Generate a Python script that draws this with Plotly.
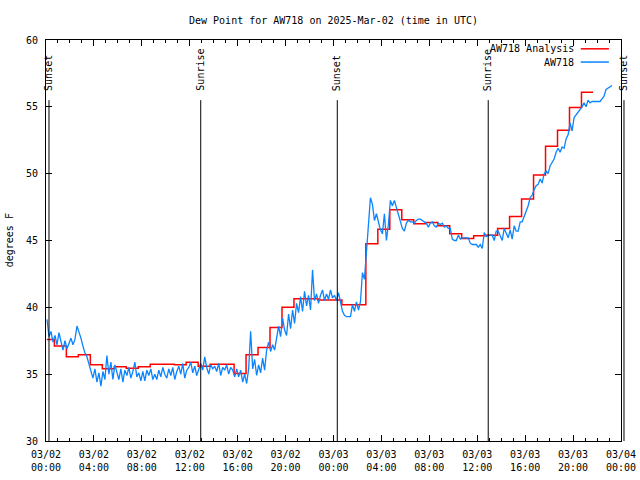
import pandas as pd
import plotly.graph_objects as go

TITLE = "Dew Point for AW718 on 2025-Mar-02 (time in UTC)"
Y_LABEL = "degrees F"
SERIES_NAMES = ["AW718 Analysis", "AW718"]

# x-axis window
x_start = "2025-03-02 00:00"
x_end = "2025-03-04 00:00"

# Analysis series: hourly step values (first value from analysis_start,
# following ones begin at analysis_first_step + (k-1) hours)
analysis_start = "2025-03-02 00:04"
analysis_first_step = "2025-03-02 00:42"
analysis_end = "2025-03-03 21:40"
analysis_values = [37.6, 37.1, 36.3, 36.45, 35.7, 35.4, 35.55, 35.45, 35.55, 35.75,
                   35.75, 35.7, 35.9, 35.6, 35.75, 35.75, 35.05, 36.45, 37.0, 38.5,
                   40.0, 40.65, 40.65, 40.55, 40.55, 40.2, 40.2, 44.75, 45.85, 47.3,
                   46.55, 46.25, 46.35, 46.1, 45.5, 45.15, 45.35, 45.4, 45.9, 46.8,
                   48.1, 49.9, 52.05, 53.25, 54.95, 56.1]

# Station observations every 10 minutes from obs_start
obs_start = "2025-03-02 00:05"
obs_step_minutes = 10
obs_values = [
    39.1, 37.8, 38.2, 37.4, 37.9, 37.2,
    38.1, 37.3, 36.8, 37.5, 36.9, 37.3,
    37.7, 37.2, 37.6, 38.6, 38.2, 37.7,
    37.1, 36.6, 36.3, 35.8, 35.3, 34.7,
    35.4, 34.4, 35.1, 34.1, 35.2, 34.6,
    36.4, 35.0, 35.9, 34.6, 35.7, 35.1,
    34.6, 35.4, 34.4, 35.3, 34.9, 35.5,
    34.7, 35.2, 35.9, 34.8, 35.1, 34.5,
    35.2, 34.5, 35.3, 34.9, 35.4, 34.6,
    35.0, 34.6, 35.3, 34.8, 35.5, 35.0,
    34.7, 35.4, 34.9, 35.5, 34.6, 35.2,
    35.6, 35.0, 35.8, 34.7, 35.3, 35.5,
    35.9, 35.1, 35.6, 34.9, 35.4, 35.8,
    35.3, 36.3, 35.5, 35.0, 35.7, 35.4,
    35.6, 35.2, 35.8, 34.9, 35.5, 35.3,
    35.7, 35.0, 35.5, 35.3, 34.8, 35.4,
    34.8, 35.3, 34.4, 35.0, 34.3, 35.4,
    38.2, 35.4, 36.1, 34.9, 35.7, 35.1,
    36.2, 35.3, 36.8, 37.4, 36.7, 37.2,
    36.8, 37.9, 38.6, 37.8, 39.2, 38.3,
    37.9, 39.5, 38.4, 39.8, 38.8, 40.3,
    39.6, 40.8, 39.7, 41.2, 40.1, 40.9,
    39.8, 42.8, 40.5, 41.0, 40.3, 40.9,
    41.3, 40.5, 41.0, 40.6, 41.3, 40.7,
    40.9, 40.5, 41.1, 40.4, 39.7, 39.4,
    39.3, 39.3, 39.3, 40.2, 39.7, 40.4,
    39.8, 40.4, 42.6, 42.1, 44.3, 46.8,
    48.2, 47.7, 46.5, 47.0, 46.4, 45.8,
    45.5, 47.0, 45.0, 46.2, 48.0, 47.6,
    48.0, 47.5, 47.0, 46.4, 45.9, 45.7,
    46.3, 46.5, 46.4, 46.4, 46.3, 46.5,
    46.6, 46.6, 46.5, 46.4, 46.3, 46.0,
    46.3, 46.4, 46.1, 46.0, 46.3, 46.2,
    46.3, 46.0, 46.1, 45.9, 45.9, 45.1,
    45.0, 45.0, 45.4, 45.1, 45.2, 45.2,
    45.2, 45.2, 44.8, 44.7, 44.7, 44.7,
    44.5, 44.7, 44.4, 45.6, 45.3, 45.4,
    45.4, 45.4, 45.0, 45.7, 45.7, 45.4,
    45.0, 45.9, 45.5, 45.2, 45.8, 45.1,
    46.1, 45.7, 45.7, 46.4, 46.4, 46.8,
    47.2, 47.6, 48.2, 48.4, 48.8, 49.1,
    49.2, 49.6, 49.3, 50.0, 50.2, 50.0,
    50.6, 50.9, 51.1, 51.6, 51.9, 51.6,
    52.0, 51.9, 52.6, 52.9, 53.8, 53.2,
    54.2, 54.4, 54.6, 54.8, 55.0, 55.3,
    55.0, 55.5, 55.3, 55.4, 55.4, 55.4,
    55.4, 55.4, 55.6, 55.8, 56.3, 56.4,
    56.5, 56.6,
]

# Sun events
sun_event_times = ["2025-03-02 00:15", "2025-03-02 12:55", "2025-03-03 00:19",
                   "2025-03-03 12:55", "2025-03-04 00:15"]
sun_event_labels = ["Sunset", "Sunrise", "Sunset", "Sunrise", "Sunset"]

FONT = "DejaVu Sans Mono"
RED = "#ff0000"
BLUE = "#0a84ff"

# ---- build series ----
a_times = [pd.Timestamp(analysis_start)]
a_times += [pd.Timestamp(analysis_first_step) + pd.Timedelta(hours=k)
            for k in range(len(analysis_values) - 1)]
a_times.append(pd.Timestamp(analysis_end))
a_vals = analysis_values + [analysis_values[-1]]

o_times = pd.date_range(obs_start, periods=len(obs_values), freq=f"{obs_step_minutes}min")

fig = go.Figure()
fig.add_trace(go.Scatter(x=a_times, y=a_vals, mode="lines", line_shape="hv",
                         line=dict(color=RED, width=1.5), name=SERIES_NAMES[0],
                         showlegend=False))
fig.add_trace(go.Scatter(x=o_times, y=obs_values, mode="lines",
                         line=dict(color=BLUE, width=1.3), name=SERIES_NAMES[1],
                         showlegend=False))

t0 = pd.Timestamp(x_start)
t1 = pd.Timestamp(x_end)
line_top = 0.850
label_bottom = 0.868
for t, lab in zip(sun_event_times, sun_event_labels):
    px = (pd.Timestamp(t) - t0) / (t1 - t0)
    fig.add_shape(type="line", xref="paper", yref="paper", x0=px, x1=px,
                  y0=0, y1=line_top, line=dict(color="black", width=1))
    fig.add_annotation(xref="paper", yref="paper", x=px, y=label_bottom,
                       text=lab, textangle=-90, showarrow=False,
                       xanchor="center", yanchor="bottom",
                       font=dict(family=FONT, size=10, color="black"))

# manual gnuplot-style key (text left, sample right)
key_rows = [(0.978, RED, SERIES_NAMES[0]), (0.945, BLUE, SERIES_NAMES[1])]
for ky, col, name in key_rows:
    fig.add_annotation(xref="paper", yref="paper", x=0.921, y=ky, text=name,
                       showarrow=False, xanchor="right", yanchor="middle",
                       font=dict(family=FONT, size=10, color="black"))
    fig.add_shape(type="line", xref="paper", yref="paper", x0=0.930, x1=0.979,
                  y0=ky, y1=ky, line=dict(color=col, width=1.5))

# y label
fig.add_annotation(xref="paper", yref="paper", x=-0.063, y=0.5, text=Y_LABEL,
                   textangle=-90, showarrow=False, xanchor="center", yanchor="middle",
                   font=dict(family=FONT, size=10, color="black"))

fig.update_layout(
    width=640, height=480,
    margin=dict(l=46, r=19, t=40, b=39, autoexpand=False),
    paper_bgcolor="white", plot_bgcolor="white",
    font=dict(family=FONT, size=10, color="black"),
    title=dict(text=TITLE, x=0.5, xref="paper", y=1 - 20 / 480, yref="container",
               xanchor="center", yanchor="middle",
               font=dict(family=FONT, size=10, color="black")),
    showlegend=False,
)
fig.update_xaxes(
    type="date", range=[x_start, x_end], automargin=False,
    tick0=x_start, dtick=4 * 3600 * 1000, tickformat="%m/%d<br>%H:%M",
    ticks="inside", ticklen=6, tickcolor="black", tickwidth=1,
    minor=dict(ticks="inside", dtick=3600 * 1000, ticklen=3, tickcolor="black"),
    showline=True, linecolor="black", linewidth=1, mirror="allticks",
    showgrid=False, zeroline=False, ticklabelstandoff=4,
    tickfont=dict(family=FONT, size=10, color="black"),
)
fig.update_yaxes(
    range=[30, 60], dtick=5, tick0=30, automargin=False,
    ticks="inside", ticklen=6, tickcolor="black", tickwidth=1,
    showline=True, linecolor="black", linewidth=1, mirror="allticks",
    showgrid=False, zeroline=False, ticklabelstandoff=5,
    tickfont=dict(family=FONT, size=10, color="black"),
)

# remove the browser's default 8px page margin so the 640x480 figure fills the window
fig.write_html("out.html", config={"displayModeBar": False},
               post_script="document.body.style.margin='0px';")
